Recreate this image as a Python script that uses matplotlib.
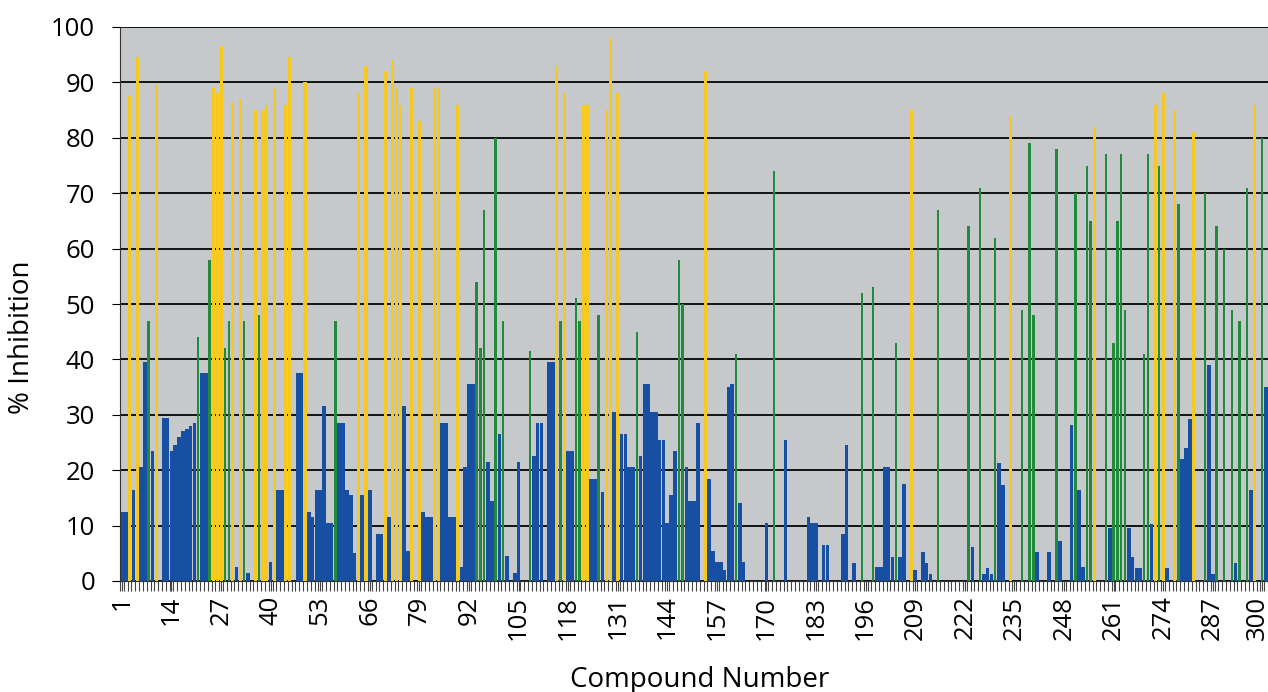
import matplotlib

matplotlib.use("Agg")
import matplotlib.pyplot as plt
import matplotlib.transforms as mtransforms
import numpy as np

# % inhibition per compound, one pair of lists per colour series
yellow_ids = [3, 5, 10, 25, 26, 27, 30, 32, 36, 38, 39, 41, 44, 45, 49, 63, 65, 70, 72,
              73, 74, 77, 79, 83, 84, 89, 115, 117, 122, 123, 128, 129, 131, 154, 208,
              234, 256, 272, 274, 277, 282, 298]
yellow_vals = [87.5, 94.5, 89.5, 89, 88, 96.5, 86.5, 87, 85, 85, 86, 89, 86, 94.5, 90, 88,
               93, 92, 94, 89, 86, 89, 83, 89, 89, 86, 93, 88, 86, 86, 85, 98, 88, 92, 85,
               84, 82, 86, 88, 85, 81, 86]

green_ids = [8, 21, 24, 28, 29, 33, 37, 57, 94, 95, 96, 99, 101, 108, 116, 120, 121, 126,
             136, 147, 148, 162, 172, 195, 198, 204, 215, 223, 226, 230, 237, 239, 240,
             246, 251, 254, 255, 259, 261, 262, 263, 264, 269, 270, 273, 278, 285, 288,
             290, 292, 294, 296, 300]
green_vals = [47, 44, 58, 42, 47, 47, 48, 47, 54, 42, 67, 80, 47, 41.5, 47, 51, 47, 48,
              45, 58, 50, 41, 74, 52, 53, 43, 67, 64, 71, 62, 49, 79, 48,
              78, 70, 75, 65, 77, 43, 65, 77, 49, 41, 77, 75, 68, 70, 64,
              60, 49, 47, 71, 80]

blue_ids = [1, 2, 4, 6, 7, 8, 9, 12, 13, 14, 15, 16, 17, 18, 19, 20, 22, 23, 31, 34, 40,
            42, 43, 47, 48, 50, 51, 52, 53, 54, 55, 56, 58, 59, 60, 61, 62, 64, 66, 68,
            69, 71, 75, 76, 80, 81, 82, 85, 86, 87, 88, 90, 91, 92, 93, 97, 98, 100, 102,
            104, 105, 109, 110, 111, 113, 114, 118, 119, 124, 125, 127, 130, 132, 133,
            134, 135, 137, 138, 139, 140, 141, 142, 143, 144, 145, 146, 149, 150, 151,
            152, 155, 156, 157, 158, 159, 160, 161, 163, 164, 170, 175, 181, 182, 183,
            185, 186, 190, 191, 193, 199, 200, 201, 202, 203, 205, 206, 209, 211, 212,
            213, 224, 227, 228, 229, 231, 232, 241, 244, 247, 250, 252, 253, 260, 265,
            266, 267, 268, 271, 275, 279, 280, 281, 286, 287, 293, 297, 301]
blue_vals = [12.5, 12.5, 16.5, 20.5, 39.5, 39.5, 23.5, 29.5, 29.5, 23.5, 24.5, 26, 27,
             27.5, 28, 28.5, 37.5, 37.5, 2.5, 1.5, 3.5, 16.5, 16.5, 37.5, 37.5, 12.5,
             11.5, 16.5, 16.5, 31.5, 10.5, 10.5, 28.5, 28.5, 16.5, 15.5, 5, 15.5, 16.5,
             8.5, 8.5, 11.5, 31.5, 5.5, 12.5, 11.5, 11.5, 28.5, 28.5, 11.5, 11.5, 2.5,
             20.5, 35.5, 35.5, 21.5, 14.5, 26.5, 4.5, 1.5, 21.5, 22.5, 28.5, 28.5, 39.5,
             39.5, 23.5, 23.5, 18.5, 18.5, 16, 30.5, 26.5, 26.5, 20.5, 20.5, 22.5, 35.5,
             35.5, 30.5, 30.5, 25.5, 25.5, 10.5, 15.5, 23.5, 20.5, 14.5, 14.5, 28.5,
             18.5, 5.5, 3.5, 3.5, 2, 35, 35.5, 14, 3.5, 10.5, 25.5, 11.5, 10.5, 10.5,
             6.5, 6.5, 8.5, 24.5, 3.3, 2.5, 2.5, 20.5, 20.5, 4.3, 4.3, 17.5, 2, 5.3, 3.3,
             1.3, 6.2, 1.3, 2.4, 1.3, 21.3, 17.4, 5.3, 5.3, 7.2, 28.2, 16.4, 2.6, 9.5,
             9.5, 4.3, 2.3, 2.3, 10.3, 2.3, 22, 24, 29.2, 39, 1.3, 3.3, 16.4, 35]

tick_labels = list(range(1, 301, 13))

BG = "#c5c9cc"
BLUE = "#1750a3"
YELLOW = "#f7c81e"
GREEN = "#238a3c"

plt.rcParams["font.family"] = ["Open Sans", "DejaVu Sans"]

fig = plt.figure(figsize=(12.68, 6.92), dpi=100)
ax = fig.add_axes([120 / 1268, 1 - 581 / 692, 1 - 120 / 1268, (581 - 27) / 692])
ax.set_facecolor(BG)

ax.bar(blue_ids, blue_vals, width=0.95, color=BLUE, linewidth=0, zorder=2)
ax.bar(yellow_ids, yellow_vals, width=0.8, color=YELLOW, linewidth=0, zorder=3)
ax.bar(green_ids, green_vals, width=0.62, color=GREEN, linewidth=0, zorder=4)

ax.set_xlim(0.5, 301.3)
ax.set_ylim(0, 100)
ax.set_yticks(np.arange(0, 101, 10))
ax.yaxis.grid(True, color="#111", lw=1.4)
ax.set_axisbelow(True)

ax.set_xticks(tick_labels)
ax.set_xticklabels([str(t) for t in tick_labels], rotation=90, fontsize=18.5)
ax.set_xticks(np.arange(0.5, 302, 1), minor=True)
ax.tick_params(axis="x", which="both", length=7, width=0.8, color="#444")
ax.tick_params(axis="y", labelsize=18.5, length=6, pad=12)

# the last label sits against the right edge; nudge it in a little
last = ax.get_xticklabels()[-1]
last.set_transform(last.get_transform() + mtransforms.ScaledTranslation(-5 / 100, 0, fig.dpi_scale_trans))

for s in ("top", "right"):
    ax.spines[s].set_visible(False)
ax.spines["left"].set_color("#333")
ax.spines["bottom"].set_color("#333")

ax.set_ylabel("% Inhibition", fontsize=20)
ax.set_xlabel("Compound Number", fontsize=20)
ax.yaxis.set_label_coords(-0.085, 0.44)
ax.xaxis.set_label_coords(0.505, -0.179)
ax.xaxis.label.set_va("center")
ax.yaxis.label.set_va("center")

fig.savefig("out.png", dpi=100)
